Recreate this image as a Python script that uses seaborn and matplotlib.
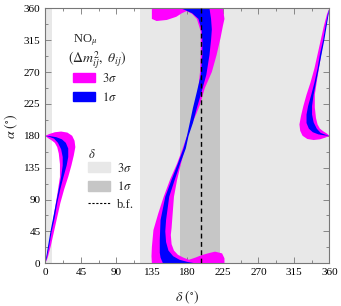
import numpy as np
import matplotlib
matplotlib.use("Agg")
import matplotlib.pyplot as plt
import seaborn as sns
from matplotlib.patches import Patch
from matplotlib.lines import Line2D
from matplotlib.ticker import MultipleLocator

sns.set_theme(style="ticks")
plt.rcParams['font.family'] = ['Liberation Serif', 'DejaVu Serif']
plt.rcParams['mathtext.fontset'] = 'stix'

# delta ranges (deg)
d3_bands = [(0, 9), (120, 360)]
d1_band = (171, 221)
d_bf = 197

# left branch (delta, alpha) outlines
left_mag_d = [0, 3, 7, 11, 15, 19, 24, 29, 33, 36, 38, 37, 34, 28, 20, 12, 5, 0,
              3, 8, 12, 15, 17, 18.5, 18.5, 15.5, 12.5, 9, 6, 3, 0]
left_mag_a = [0, 8, 25, 45, 65, 85, 105, 122, 138, 152, 164, 173, 180, 184.5, 186, 185, 182.5, 180,
              177, 173.5, 170, 164, 155, 140, 122, 100, 80, 55, 35, 18, 0]
left_blue_d = [0, 2, 5, 8, 12, 15, 19, 23, 27, 29, 29, 26, 21, 14, 6, 0,
               5, 11, 16, 20, 22, 22, 20, 17, 13.5, 10, 6.5, 3.5, 1, 0]
left_blue_a = [0, 8, 25, 45, 65, 85, 105, 122, 138, 150, 162, 170, 175, 178, 179.5, 180,
               178.5, 176, 170, 161, 150, 138, 122, 105, 85, 65, 45, 25, 8, 0]

# right branch
right_mag_d = [360, 357, 353, 349, 345, 341, 336, 331, 327, 324, 322, 323, 326, 332, 340, 348, 355, 360,
               357, 352, 348, 345, 343, 341.5, 341.5, 344.5, 347.5, 351, 354, 357, 360]
right_mag_a = [360, 352, 335, 315, 295, 275, 255, 238, 222, 208, 196, 187, 180, 175.5, 174, 175, 177.5, 180,
               183, 186.5, 190, 196, 205, 220, 238, 260, 280, 305, 325, 342, 360]
right_blue_d = [360, 358, 355, 352, 348, 345, 341, 337, 333, 331, 331, 334, 339, 346, 354, 360,
                355, 349, 344, 340, 338, 338, 340, 343, 346.5, 350, 353.5, 356.5, 359, 360]
right_blue_a = [360, 352, 335, 315, 295, 275, 255, 238, 222, 210, 198, 190, 185, 182, 180.5, 180,
                181.5, 184, 190, 199, 210, 222, 238, 255, 275, 295, 315, 335, 352, 360]

# middle branch
mid_mag_d = [135, 227, 227, 224, 215, 206, 198, 190, 182, 175, 168, 163, 160, 159, 160, 161, 163, 167, 172,
             177, 181, 185, 191, 196, 202, 211, 217, 222, 225, 227, 225, 135, 135, 141, 154, 166,
             173, 179, 186, 192, 197, 197, 197, 196, 194, 191, 187, 183, 179, 174, 167, 158, 150,
             143, 137, 135, 134.5]
mid_mag_a = [0, 0, 7, 14, 16.5, 14, 11.5, 8, 5, 8, 12, 18, 27, 40, 50, 65, 94, 118, 141,
             162, 180, 195, 210, 224, 247, 270, 294, 318, 335, 345, 360, 360, 345, 342, 343.5, 348,
             353, 356, 352, 345, 327, 318, 294, 270, 247, 224, 205, 190, 178, 162, 141, 118, 94,
             70, 47, 23, 10]
mid_blue_d = [149, 146, 145, 145, 146, 152, 160, 168, 175, 179.5, 183, 187, 192, 197, 199, 199, 198,
              194, 186, 176, 171, 208, 210, 211, 210, 208, 204, 198, 192, 187, 181.5, 178, 171, 164,
              157, 153, 152, 153, 156, 162, 170, 180, 190]
mid_blue_a = [0, 8, 15, 33, 61, 94, 118, 141, 162, 180, 198, 219, 242, 266, 294, 315, 330,
              345, 353, 358, 360, 360, 345, 330, 315, 294, 266, 242, 219, 198, 180, 162, 141, 118,
              94, 61, 45, 30, 18, 10, 5, 2, 0]

c_mag = '#ff00ff'
c_blue = '#0000ff'
c_g3 = '#e8e8e8'
c_g1 = '#c6c6c6'

fig = plt.figure(figsize=(3.41, 3.06), dpi=100)
ax = fig.add_axes([0.133, 0.1395, 0.833, 0.8335])

for lo, hi in d3_bands:
    ax.axvspan(lo, hi, color=c_g3, lw=0, zorder=0)
ax.axvspan(d1_band[0], d1_band[1], color=c_g1, lw=0, zorder=0.5)

for dd, aa, col in [(left_mag_d, left_mag_a, c_mag), (right_mag_d, right_mag_a, c_mag),
                    (mid_mag_d, mid_mag_a, c_mag), (left_blue_d, left_blue_a, c_blue),
                    (right_blue_d, right_blue_a, c_blue), (mid_blue_d, mid_blue_a, c_blue)]:
    ax.fill(dd, aa, color=col, lw=0, zorder=2)

ax.plot([d_bf, d_bf], [0, 360], color='black', lw=1.0, dashes=(3.5, 2.5), zorder=3)

ax.set_xlim(0, 360)
ax.set_ylim(0, 360)
ax.xaxis.set_major_locator(MultipleLocator(45))
ax.yaxis.set_major_locator(MultipleLocator(45))
ax.xaxis.set_minor_locator(MultipleLocator(22.5))
ax.yaxis.set_minor_locator(MultipleLocator(22.5))
ax.tick_params(which='both', direction='in', top=True, right=True, colors='#777777',
               labelcolor='black', labelsize=8, width=0.6)
ax.tick_params(which='major', length=4)
ax.tick_params(which='minor', length=2)
for s in ax.spines.values():
    s.set_color('#777777')
    s.set_linewidth(0.8)

ax.set_xlabel(r'$\delta\ (^{\circ})$', fontsize=10)
ax.set_ylabel(r'$\alpha\ (^{\circ})$', fontsize=10)
ax.xaxis.set_label_coords(0.5, -0.1)
ax.yaxis.set_label_coords(-0.088, 0.538)

ax.text(0.0965, 0.876, r'NO$_\mu$', transform=ax.transAxes, ha='left', va='center', fontsize=9)
ax.text(0.08, 0.797, r'$(\Delta m^2_{ij},\ \theta_{ij})$', transform=ax.transAxes,
        ha='left', va='center', fontsize=10)
ax.text(0.150, 0.425, r'$\delta$', transform=ax.transAxes, ha='left', va='center', fontsize=9)

h1 = [Patch(color=c_mag, label=r'$3\sigma$'), Patch(color=c_blue, label=r'$1\sigma$')]
leg1 = ax.legend(handles=h1, frameon=False, loc='upper left', bbox_to_anchor=(0.0965, 0.75),
                 borderpad=0, borderaxespad=0, fontsize=9, handlelength=1.8, handleheight=0.8,
                 handletextpad=0.5, labelspacing=0.45)
ax.add_artist(leg1)
h2 = [Patch(color=c_g3, label=r'$3\sigma$'), Patch(color=c_g1, label=r'$1\sigma$'),
      Line2D([], [], color='black', lw=0.8, dashes=(2, 1.5), label='b.f.')]
ax.legend(handles=h2, frameon=False, loc='upper left', bbox_to_anchor=(0.150, 0.399),
          borderpad=0, borderaxespad=0, fontsize=9, handlelength=1.8, handleheight=0.8,
          handletextpad=0.5, labelspacing=0.45)

fig.savefig('out.png', dpi=100)
